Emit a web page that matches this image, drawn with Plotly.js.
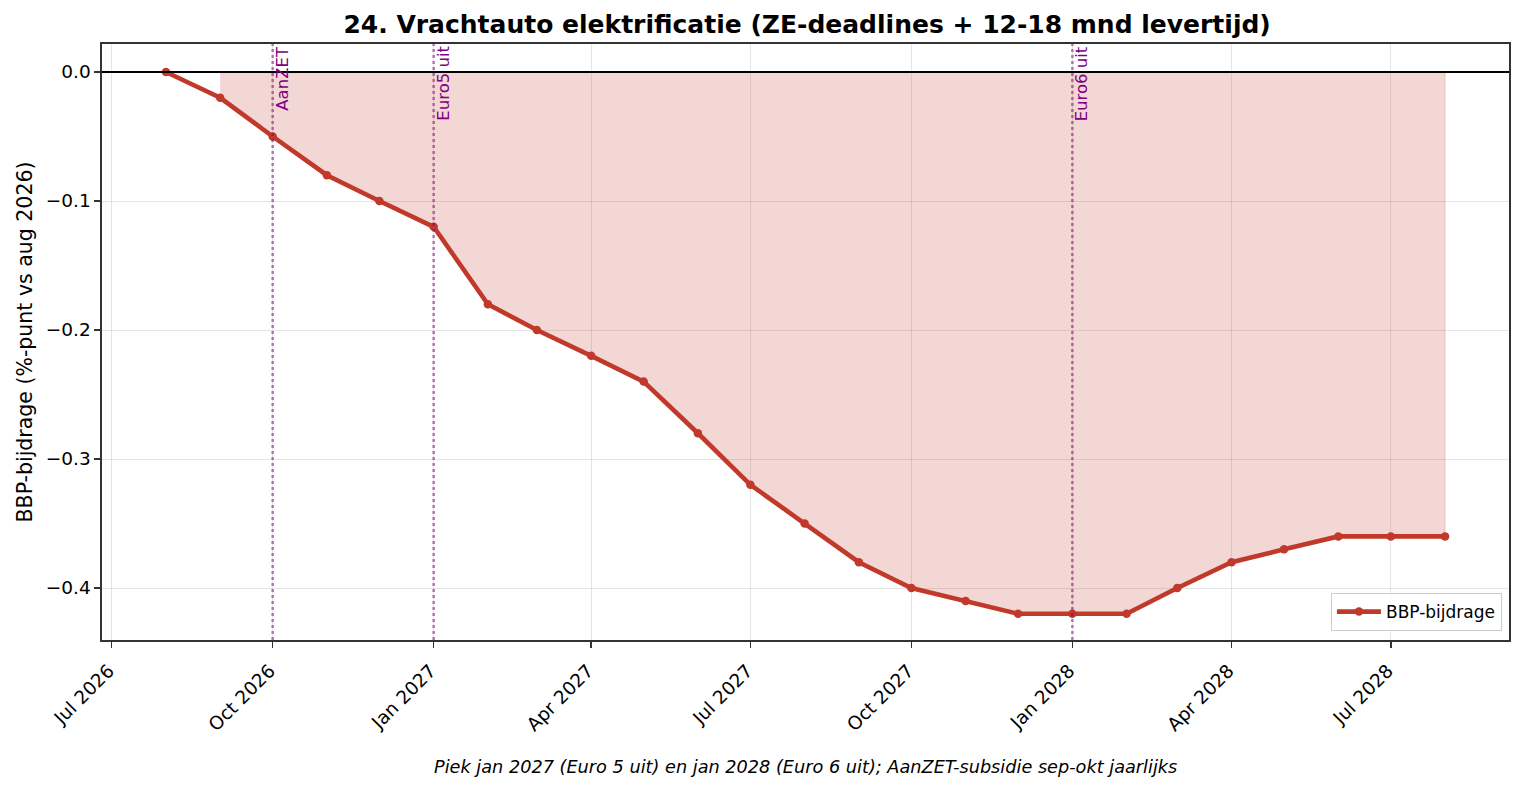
<!DOCTYPE html>
<html>
<head>
<meta charset="utf-8">
<script src="https://cdn.plot.ly/plotly-3.0.1.min.js"></script>
<style>
html,body{margin:0;padding:0;background:#fff;}
#chart{width:1524px;height:791px;}
</style>
</head>
<body>
<div id="chart"></div>
<script>
const months = ["2026-08-01","2026-09-01","2026-10-01","2026-11-01","2026-12-01",
  "2027-01-01","2027-02-01","2027-03-01","2027-04-01","2027-05-01","2027-06-01",
  "2027-07-01","2027-08-01","2027-09-01","2027-10-01","2027-11-01","2027-12-01",
  "2028-01-01","2028-02-01","2028-03-01","2028-04-01","2028-05-01","2028-06-01",
  "2028-07-01","2028-08-01"];
const bbp = [0.00,-0.02,-0.05,-0.08,-0.10,-0.12,-0.18,-0.20,-0.22,-0.24,-0.28,
  -0.32,-0.35,-0.38,-0.40,-0.41,-0.42,-0.42,-0.42,-0.40,-0.38,-0.37,-0.36,-0.36,-0.36];
const eventDates = ["2026-10-01","2027-01-01","2028-01-01"];
const eventLabels = ["AanZET","Euro5 uit","Euro6 uit"];
const fillStart = 1;

const FONT = "DejaVu Sans, sans-serif";
const RED = "#c0392b";

const fx = months.slice(fillStart);
const fy = bbp.slice(fillStart);
const polyX = fx.concat(fx.slice().reverse());
const polyY = fy.concat(fy.map(() => 0));

const traces = [
  {
    x: polyX, y: polyY, type: "scatter", mode: "lines",
    fill: "toself", fillcolor: "rgba(192,57,43,0.2)",
    line: {color: "rgba(192,57,43,0.2)", width: 1},
    showlegend: false, hoverinfo: "skip"
  },
  {
    x: months, y: bbp, type: "scatter", mode: "lines+markers",
    name: "BBP-bijdrage",
    line: {color: RED, width: 4.6},
    marker: {color: RED, size: 8.5}
  }
];

const shapes = [
  {type: "line", xref: "paper", yref: "y", x0: 0, x1: 1, y0: 0, y1: 0,
   line: {color: "#000", width: 1.9}}
];
eventDates.forEach(d => {
  shapes.push({type: "line", xref: "x", yref: "paper", x0: d, x1: d, y0: 0, y1: 1,
    line: {color: "rgba(128,0,128,0.5)", width: 2.6, dash: "dot"}});
});

const annotations = eventLabels.map((t, i) => ({
  x: eventDates[i], y: 1, xref: "x", yref: "paper",
  text: t, showarrow: false, textangle: -90,
  xanchor: "left", yanchor: "top", xshift: -2, yshift: 0,
  font: {family: FONT, size: 16.5, color: "purple"}
}));
annotations.push({
  x: 0.5, y: -0.213, xref: "paper", yref: "paper",
  text: "<i>Piek jan 2027 (Euro 5 uit) en jan 2028 (Euro 6 uit); AanZET-subsidie sep-okt jaarlijks</i>",
  showarrow: false, xanchor: "center", yanchor: "middle",
  font: {family: FONT, size: 17.7, color: "#000"}
});

const layout = {
  width: 1524, height: 791,
  margin: {l: 102, r: 15, t: 44, b: 151},
  paper_bgcolor: "#fff", plot_bgcolor: "#fff",
  font: {family: FONT, size: 18.5, color: "#000"},
  title: {
    text: "<b>24. Vrachtauto elektrificatie (ZE-deadlines + 12-18 mnd levertijd)</b>",
    x: 0.5296, xanchor: "center", y: 1 - 24/791, yanchor: "middle", yref: "container",
    font: {family: FONT, size: 25, color: "#000"}
  },
  xaxis: {
    type: "date",
    range: ["2026-06-25 11:00", "2028-09-06 13:00"],
    tickvals: ["2026-07-01","2026-10-01","2027-01-01","2027-04-01","2027-07-01",
               "2027-10-01","2028-01-01","2028-04-01","2028-07-01"],
    tickformat: "%b %Y", tickangle: -45,
    ticks: "outside", ticklen: 6, tickwidth: 1.5, tickcolor: "#333",
    ticklabelstandoff: 5, ticklabelshift: -3,
    showgrid: true, gridcolor: "rgba(0,0,0,0.1)", gridwidth: 1,
    showline: true, linecolor: "#333", linewidth: 1.6, mirror: true,
    zeroline: false,
    tickfont: {family: FONT, size: 18.5, color: "#000"}
  },
  yaxis: {
    range: [-0.4403, 0.0217],
    tickvals: [0, -0.1, -0.2, -0.3, -0.4],
    tickformat: ".1f",
    ticks: "outside", ticklen: 6, tickwidth: 1.5, tickcolor: "#333",
    showgrid: true, gridcolor: "rgba(0,0,0,0.1)", gridwidth: 1,
    showline: true, linecolor: "#333", linewidth: 1.6, mirror: true,
    zeroline: false,
    tickfont: {family: FONT, size: 18.5, color: "#000"},
    title: {text: "BBP-bijdrage (%-punt vs aug 2026)", standoff: 7,
            font: {family: FONT, size: 20.5, color: "#000"}}
  },
  legend: {
    x: 0.995, y: 0.015, xanchor: "right", yanchor: "bottom",
    bgcolor: "rgba(255,255,255,0.8)", bordercolor: "#ccc", borderwidth: 1,
    itemwidth: 44,
    font: {family: FONT, size: 17, color: "#000"}
  },
  showlegend: true,
  shapes: shapes,
  annotations: annotations
};

Plotly.newPlot("chart", traces, layout, {displayModeBar: false, staticPlot: true});
</script>
</body>
</html>
